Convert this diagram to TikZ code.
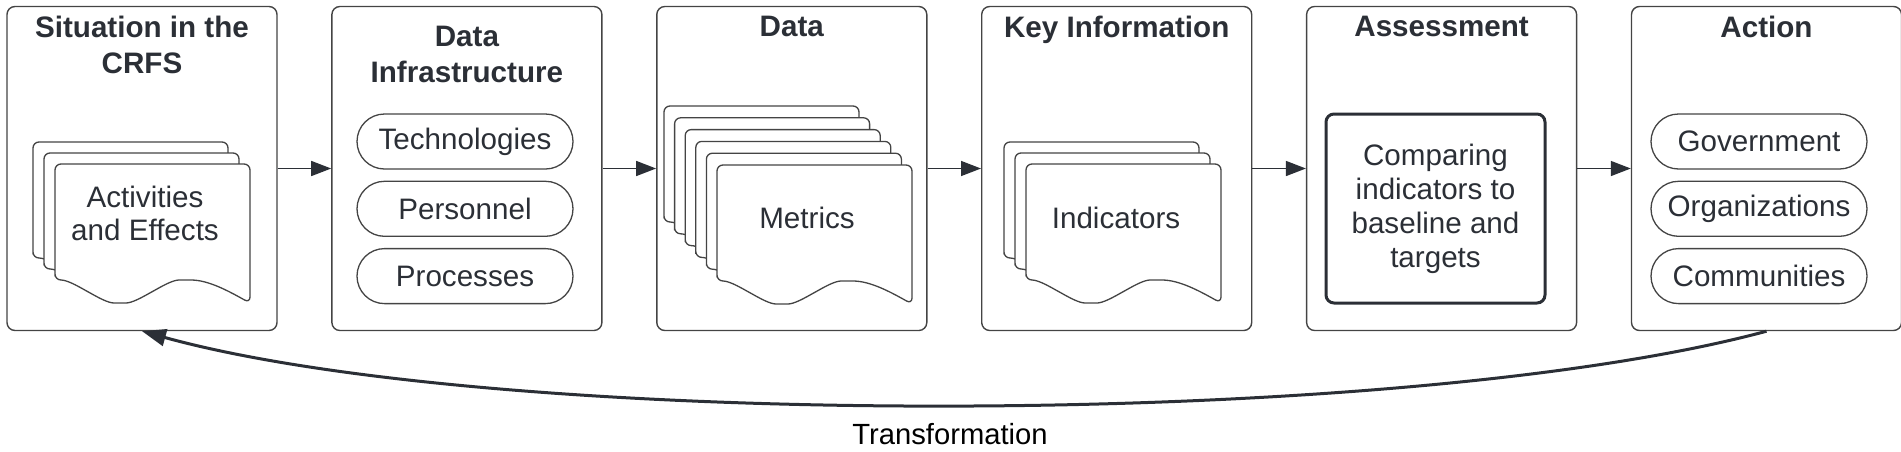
\documentclass[tikz,border=0pt]{standalone}
\usepackage{fontspec}
\setmainfont{Liberation Sans}
\usepackage{tikz}
\usetikzlibrary{positioning,arrows.meta,shapes.misc}
\definecolor{inkC}{HTML}{2B2F36}
\definecolor{edgeC}{HTML}{444444}
\tikzset{%
  panel/.style={draw=edgeC, line width=0.7pt, rounded corners=4pt,
    minimum width=135pt, minimum height=162pt, inner sep=0pt},
  head/.style={text=inkC, font=\bfseries\fontsize{14.8}{18}\selectfont,
    align=center, inner sep=0pt},
  body/.style={text=inkC, font=\fontsize{14.8}{16.5}\selectfont,
    align=center, inner sep=0pt},
  pill/.style={draw=edgeC, line width=0.65pt, rounded rectangle,
    minimum width=108pt, minimum height=27.5pt, inner sep=0pt,
    text=inkC, font=\fontsize{14.8}{17}\selectfont},
  flow/.style={draw=inkC, line width=0.75pt, -{Triangle[length=10pt,width=7.5pt]}},
  loop back/.style={draw=inkC, line width=1.5pt, -{Triangle[length=12pt,width=8.5pt]}},
  doc/.pic={
    \draw[draw=edgeC, line width=0.65pt, fill=white, rounded corners=3pt]
      (0,116) -- (0,0) -- (195,0) -- (195,139)
      sin (130,116) cos (97.5,127.5) sin (65,139) cos (32.5,127.5) sin (0,116) -- cycle;
  }
}

\begin{document}
\begin{tikzpicture}[x=0.5pt,y=-0.5pt]
\useasboundingbox (0,0) rectangle (1901,451);

\node[panel] (sitNode) at (142,168.5) {};
\node[panel, right=26.75pt of sitNode] (infraNode) {};
\node[panel, right=26.75pt of infraNode] (dataNode) {};
\node[panel, right=26.75pt of dataNode] (keyNode) {};
\node[panel, right=26.75pt of keyNode] (assessNode) {};
\node[panel, right=26.75pt of assessNode] (actNode) {};

\node[head, below=5pt of sitNode.north] (sitHead) {Situation in the\\CRFS};
\node[head, below=10pt of infraNode.north] (infraHead) {Data\\Infrastructure};
\node[head, below=5pt of dataNode.north] (dataHead) {Data};
\node[head, below=5pt of keyNode.north] (keyHead) {Key Information};
\node[head, below=5pt of assessNode.north] (assessHead) {Assessment};
\node[head, below=5pt of actNode.north] (actHead) {Action};

% stacked documents
\pic at (33,142) {doc};
\pic at (44,153) {doc};
\pic at (55,164) {doc};
\node[body] (actEffNode) at (145,213.5) {Activities\\and Effects};

\pic at (664,106) {doc};
\pic at (674.6,117.8) {doc};
\pic at (685.2,129.6) {doc};
\pic at (695.8,141.4) {doc};
\pic at (706.4,153.2) {doc};
\pic at (717,165) {doc};
\node[body] (metricNode) at (807,218) {Metrics};

\pic at (1004,142) {doc};
\pic at (1015,153) {doc};
\pic at (1026,164) {doc};
\node[body] (indNode) at (1116,218) {Indicators};

\node[pill] (techNode) at (465,141.5) {Technologies};
\node[pill, below=5.5pt of techNode] (persNode) {Personnel};
\node[pill, below=5.5pt of persNode] (procNode) {Processes};

\node[pill] (govNode) at (1759,141.5) {Government};
\node[pill, below=5.5pt of govNode] (orgNode) {Organizations};
\node[pill, below=5.5pt of orgNode] (commNode) {Communities};

\node[body, draw=inkC, line width=1.5pt, rounded corners=4pt, minimum width=109.5pt,
  minimum height=94.5pt, font=\fontsize{14.8}{17}\selectfont] (compNode) at (1435.5,208.5)
  {Comparing\\indicators to\\baseline and\\targets};

\draw[flow] (sitNode) -- (infraNode);
\draw[flow] (infraNode) -- (dataNode);
\draw[flow] (dataNode) -- (keyNode);
\draw[flow] (keyNode) -- (assessNode);
\draw[flow] (assessNode) -- (actNode);

\draw[loop back] (actNode.south) .. controls (1400,430) and (500,430) .. (sitNode.south);
\node[text=black, font=\fontsize{14.6}{17}\selectfont] (transNode) at (950,434) {Transformation};
\end{tikzpicture}
\end{document}
